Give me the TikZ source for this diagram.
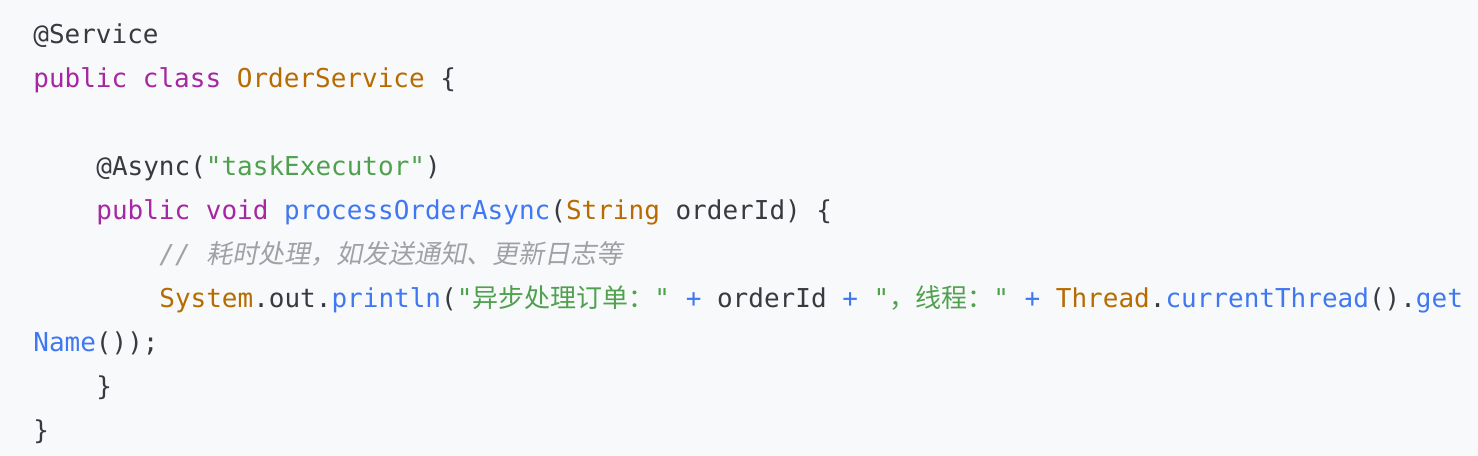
\documentclass[tikz,border=0pt]{standalone}
\usepackage{fontspec}
\usepackage{tikz}
\newfontfamily\codefont{DejaVu Sans Mono}
\newfontfamily\cjkfont{Noto Sans CJK SC}
\newfontfamily\cjkslant[FakeSlant=0.2]{Noto Sans CJK SC}
\definecolor{bgcol}{HTML}{F8F9FA}
\definecolor{plaincol}{HTML}{383A42}
\definecolor{kwcol}{HTML}{A626A4}
\definecolor{tycol}{HTML}{B76B01}
\definecolor{strcol}{HTML}{50A14F}
\definecolor{fncol}{HTML}{4078F2}
\definecolor{cmcol}{HTML}{A0A1A7}
\newcommand{\kw}[1]{\textcolor{kwcol}{#1}}
\newcommand{\ty}[1]{\textcolor{tycol}{#1}}
\newcommand{\st}[1]{\textcolor{strcol}{#1}}
\newcommand{\fn}[1]{\textcolor{fncol}{#1}}
\newcommand{\cmt}[1]{\textcolor{cmcol}{\itshape #1}}
\newcommand{\zh}[1]{{\cjkfont #1}}
\tikzset{codeline/.style={anchor=base west, inner sep=0pt, text=plaincol,
  font=\codefont\fontsize{14.8}{18}\selectfont}}
\begin{document}
\begin{tikzpicture}[x=0.02cm,y=-0.02cm]
  \fill[bgcol] (0,0) rectangle (1478,456);

  % code lines
  \node[codeline] (l1) at (33,44) {@Service};
  \node[codeline] (l2) at (33,88) {\kw{public} \kw{class} \ty{OrderService} \{};
  \node[codeline] (l3) at (96,175) {@Async(\st{"taskExecutor"})};
  \node[codeline] (l4) at (96,219) {\kw{public} \kw{void} \fn{processOrderAsync}(\ty{String} orderId) \{};
  \node[codeline] (l5) at (159,263) {\cmt{// {\cjkslant 耗时处理，如发送通知、更新日志等}}};
  \node[codeline] (l6) at (159,307) {\ty{System}.out.\fn{println}(\st{"\zh{异步处理订单：}"} \fn{+} orderId \fn{+} \st{"\zh{，线程：}"} \fn{+} \ty{Thread}.\fn{currentThread}().\fn{get}};
  \node[codeline] (l7) at (33,351) {\fn{Name}());};
  \node[codeline] (l8) at (96,395) {\}};
  \node[codeline] (l9) at (33,439) {\}};
\end{tikzpicture}
\end{document}
